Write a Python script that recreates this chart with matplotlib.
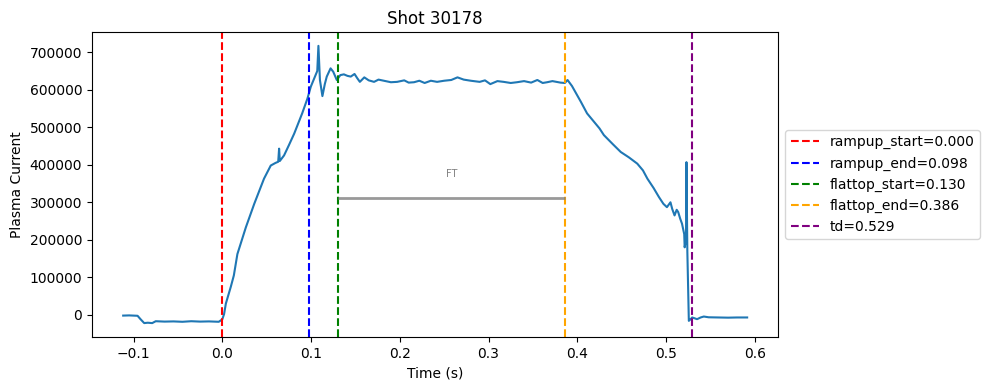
import matplotlib
matplotlib.use("Agg")
from matplotlib import pyplot as plt

shot = 30178

# plasma current trace (time in s, current in A)
time = [-0.1117, -0.105, -0.0955, -0.092, -0.088, -0.084, -0.079, -0.075, -0.065,
        -0.055, -0.045, -0.035, -0.025, -0.015, -0.004, 0.000, 0.002, 0.004,
        0.0096, 0.013, 0.017, 0.0265, 0.036, 0.047, 0.0546, 0.060, 0.0630,
        0.0640, 0.0648, 0.0696, 0.075, 0.081, 0.090, 0.096, 0.0997, 0.105,
        0.107, 0.1083, 0.1095, 0.110, 0.1128, 0.1155, 0.1177, 0.122, 0.125,
        0.129, 0.133, 0.137, 0.141, 0.1447, 0.149, 0.152, 0.155, 0.160, 0.165,
        0.171, 0.176, 0.182, 0.190, 0.197, 0.205, 0.210, 0.216, 0.222, 0.228,
        0.235, 0.242, 0.250, 0.258, 0.265, 0.272, 0.280, 0.290, 0.296, 0.302,
        0.310, 0.317, 0.325, 0.332, 0.340, 0.348, 0.355, 0.361, 0.366, 0.372,
        0.381, 0.386, 0.389, 0.394, 0.400, 0.404, 0.411, 0.419, 0.425, 0.430,
        0.440, 0.449, 0.458, 0.4676, 0.474, 0.479, 0.486, 0.492, 0.497, 0.501,
        0.505, 0.507, 0.5096, 0.512, 0.5137, 0.516, 0.518, 0.5205, 0.521, 0.5225,
        0.523, 0.5235, 0.524, 0.5257, 0.5275, 0.5295, 0.532, 0.535, 0.539,
        0.5426, 0.548, 0.5577, 0.570, 0.580, 0.5914]
current = [-2000, -1500, -2500, -12000, -22000, -21000, -22000, -17000, -18000,
           -17500, -18500, -17000, -18000, -17500, -18500, -12000, 2000, 30000,
           75000, 105000, 162000, 233000, 296000, 363000, 398000, 405000, 408000,
           443000, 410000, 425000, 452000, 483000, 537000, 577000, 608000, 639000,
           650000, 717000, 650000, 626000, 583000, 615000, 635000, 657000, 648000,
           626000, 639000, 641000, 637000, 635000, 642000, 631000, 621000, 633000,
           625000, 621000, 627000, 624000, 620000, 621000, 625000, 619000, 620000,
           624000, 618000, 624000, 621000, 624000, 626000, 633000, 627000, 624000,
           621000, 625000, 615000, 623000, 621000, 618000, 620000, 623000, 619000,
           626000, 618000, 620000, 623000, 619000, 618000, 626000, 610000, 585000,
           568000, 537000, 514000, 497000, 479000, 455000, 434000, 420000, 403000,
           385000, 363000, 338000, 314000, 296000, 287000, 300000, 282000, 265000,
           280000, 274000, 256000, 243000, 215000, 180000, 200000, 407000, 300000,
           171000, -16000, -12000, -7000, -9000, -11500, -7000, -4500, -6500,
           -7000, -7500, -7000, -7000]

event_names = ["rampup_start", "rampup_end", "flattop_start", "flattop_end", "td"]
event_times = [0.000, 0.098, 0.130, 0.386, 0.529]
event_colors = ["red", "blue", "green", "orange", "purple"]

ft_level = 312000

fig, ax = plt.subplots(figsize=(9.89, 3.9), dpi=100)
ax.plot(time, current)

for name, t, c in zip(event_names, event_times, event_colors):
    ax.axvline(t, color=c, linestyle="--", label=f"{name}={t:.3f}")

# flattop bar
ft_start, ft_end = event_times[2], event_times[3]
ax.hlines(ft_level, ft_start, ft_end, colors="gray", linewidth=2, alpha=0.8)
ax.text((ft_start + ft_end) / 2, ft_level * 1.2, "FT", ha="center", va="center",
        fontsize=7, color="gray")

ax.set_title(f"Shot {shot}")
ax.set_xlabel("Time (s)")
ax.set_ylabel("Plasma Current")
ax.legend(loc="center left", bbox_to_anchor=(1, 0.5))
fig.subplots_adjust(left=0.093, right=0.787, top=0.918, bottom=0.136)
fig.savefig("out.png")
